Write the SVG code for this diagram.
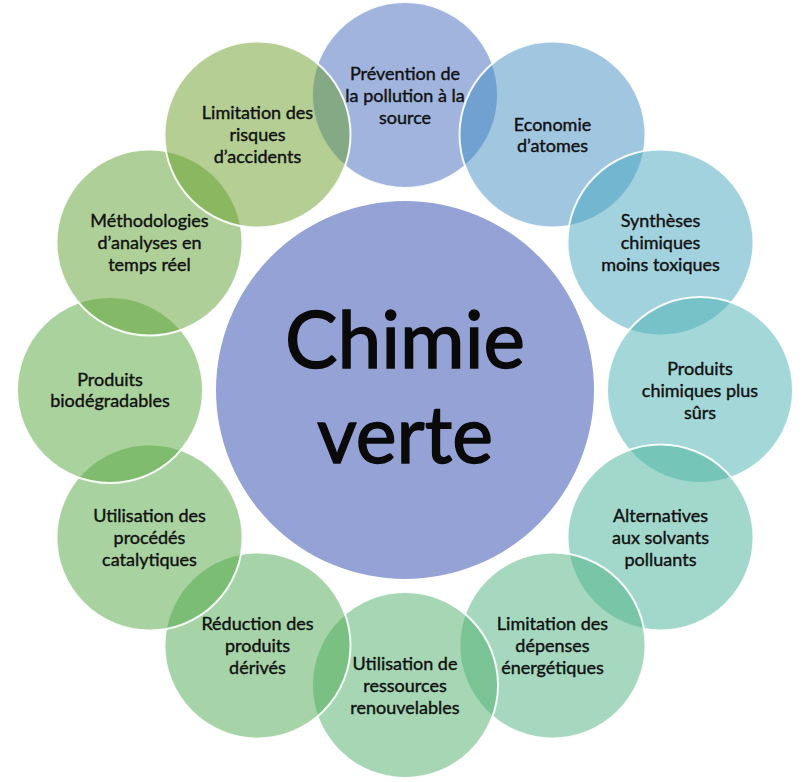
<svg xmlns="http://www.w3.org/2000/svg" width="805" height="782" viewBox="0 0 805 782">
<style>
.c{stroke:#ffffff;stroke-width:2;stroke-opacity:0.9;fill-opacity:0.5}
.t{font-family:Lato,"Open Sans","Liberation Sans",sans-serif;font-size:18px;fill:#111111;stroke:#111111;stroke-width:0.4;text-anchor:middle}
.big{font-family:Lato,"Open Sans","Liberation Sans",sans-serif;font-size:80px;fill:#0a0a0a;stroke:#0a0a0a;stroke-width:1.5;text-anchor:middle}
</style>
<rect width="805" height="782" fill="#ffffff"/>
<g id="n0"><circle class="c" cx="405" cy="95" r="93" fill="#4169BD"/>
<text class="t" x="405" y="79.5">Prévention de</text><text class="t" x="405" y="101.5">la pollution à la</text><text class="t" x="405" y="123.5">source</text></g>
<g id="n1"><circle class="c" cx="552.5" cy="134.5" r="93" fill="#418DC1"/>
<text class="t" x="552.5" y="130.5">Economie</text><text class="t" x="552.5" y="151.5">d’atomes</text></g>
<g id="n2"><circle class="c" cx="660.5" cy="242.5" r="93" fill="#45A5BD"/>
<text class="t" x="660.5" y="227">Synthèses</text><text class="t" x="660.5" y="249">chimiques</text><text class="t" x="660.5" y="271">moins toxiques</text></g>
<g id="n3"><circle class="c" cx="700" cy="390" r="93" fill="#49B1B1"/>
<text class="t" x="700" y="374.5">Produits</text><text class="t" x="700" y="396.5">chimiques plus</text><text class="t" x="700" y="418.5">sûrs</text></g>
<g id="n4"><circle class="c" cx="660.5" cy="537.5" r="93" fill="#45B199"/>
<text class="t" x="660.5" y="522">Alternatives</text><text class="t" x="660.5" y="544">aux solvants</text><text class="t" x="660.5" y="566">polluants</text></g>
<g id="n5"><circle class="c" cx="552.5" cy="645.5" r="93" fill="#4DB181"/>
<text class="t" x="552.5" y="630">Limitation des</text><text class="t" x="552.5" y="652">dépenses</text><text class="t" x="552.5" y="674">énergétiques</text></g>
<g id="n6"><circle class="c" cx="405" cy="685" r="93" fill="#4DAD69"/>
<text class="t" x="405" y="669.5">Utilisation de</text><text class="t" x="405" y="691.5">ressources</text><text class="t" x="405" y="713.5">renouvelables</text></g>
<g id="n7"><circle class="c" cx="257.5" cy="645.5" r="93" fill="#4DA951"/>
<text class="t" x="257.5" y="630">Réduction des</text><text class="t" x="257.5" y="652">produits</text><text class="t" x="257.5" y="674">dérivés</text></g>
<g id="n8"><circle class="c" cx="149.5" cy="537.5" r="93" fill="#51A541"/>
<text class="t" x="149.5" y="522">Utilisation des</text><text class="t" x="149.5" y="544">procédés</text><text class="t" x="149.5" y="566">catalytiques</text></g>
<g id="n9"><circle class="c" cx="110" cy="390" r="93" fill="#55A539"/>
<text class="t" x="110" y="386">Produits</text><text class="t" x="110" y="407">biodégradables</text></g>
<g id="n10"><circle class="c" cx="149.5" cy="242.5" r="93" fill="#5DA131"/>
<text class="t" x="149.5" y="227">Méthodologies</text><text class="t" x="149.5" y="249">d’analyses en</text><text class="t" x="149.5" y="271">temps réel</text></g>
<g id="n11"><circle class="c" cx="257.5" cy="134.5" r="93" fill="#699D29"/>
<text class="t" x="257.5" y="119">Limitation des</text><text class="t" x="257.5" y="141">risques</text><text class="t" x="257.5" y="163">d’accidents</text></g>
<g id="center"><circle cx="405" cy="390" r="189" fill="#95A2D5"/>
<text class="big" x="405" y="368" textLength="240" lengthAdjust="spacingAndGlyphs">Chimie</text>
<text class="big" x="405" y="463" textLength="176" lengthAdjust="spacingAndGlyphs">verte</text></g>
</svg>
